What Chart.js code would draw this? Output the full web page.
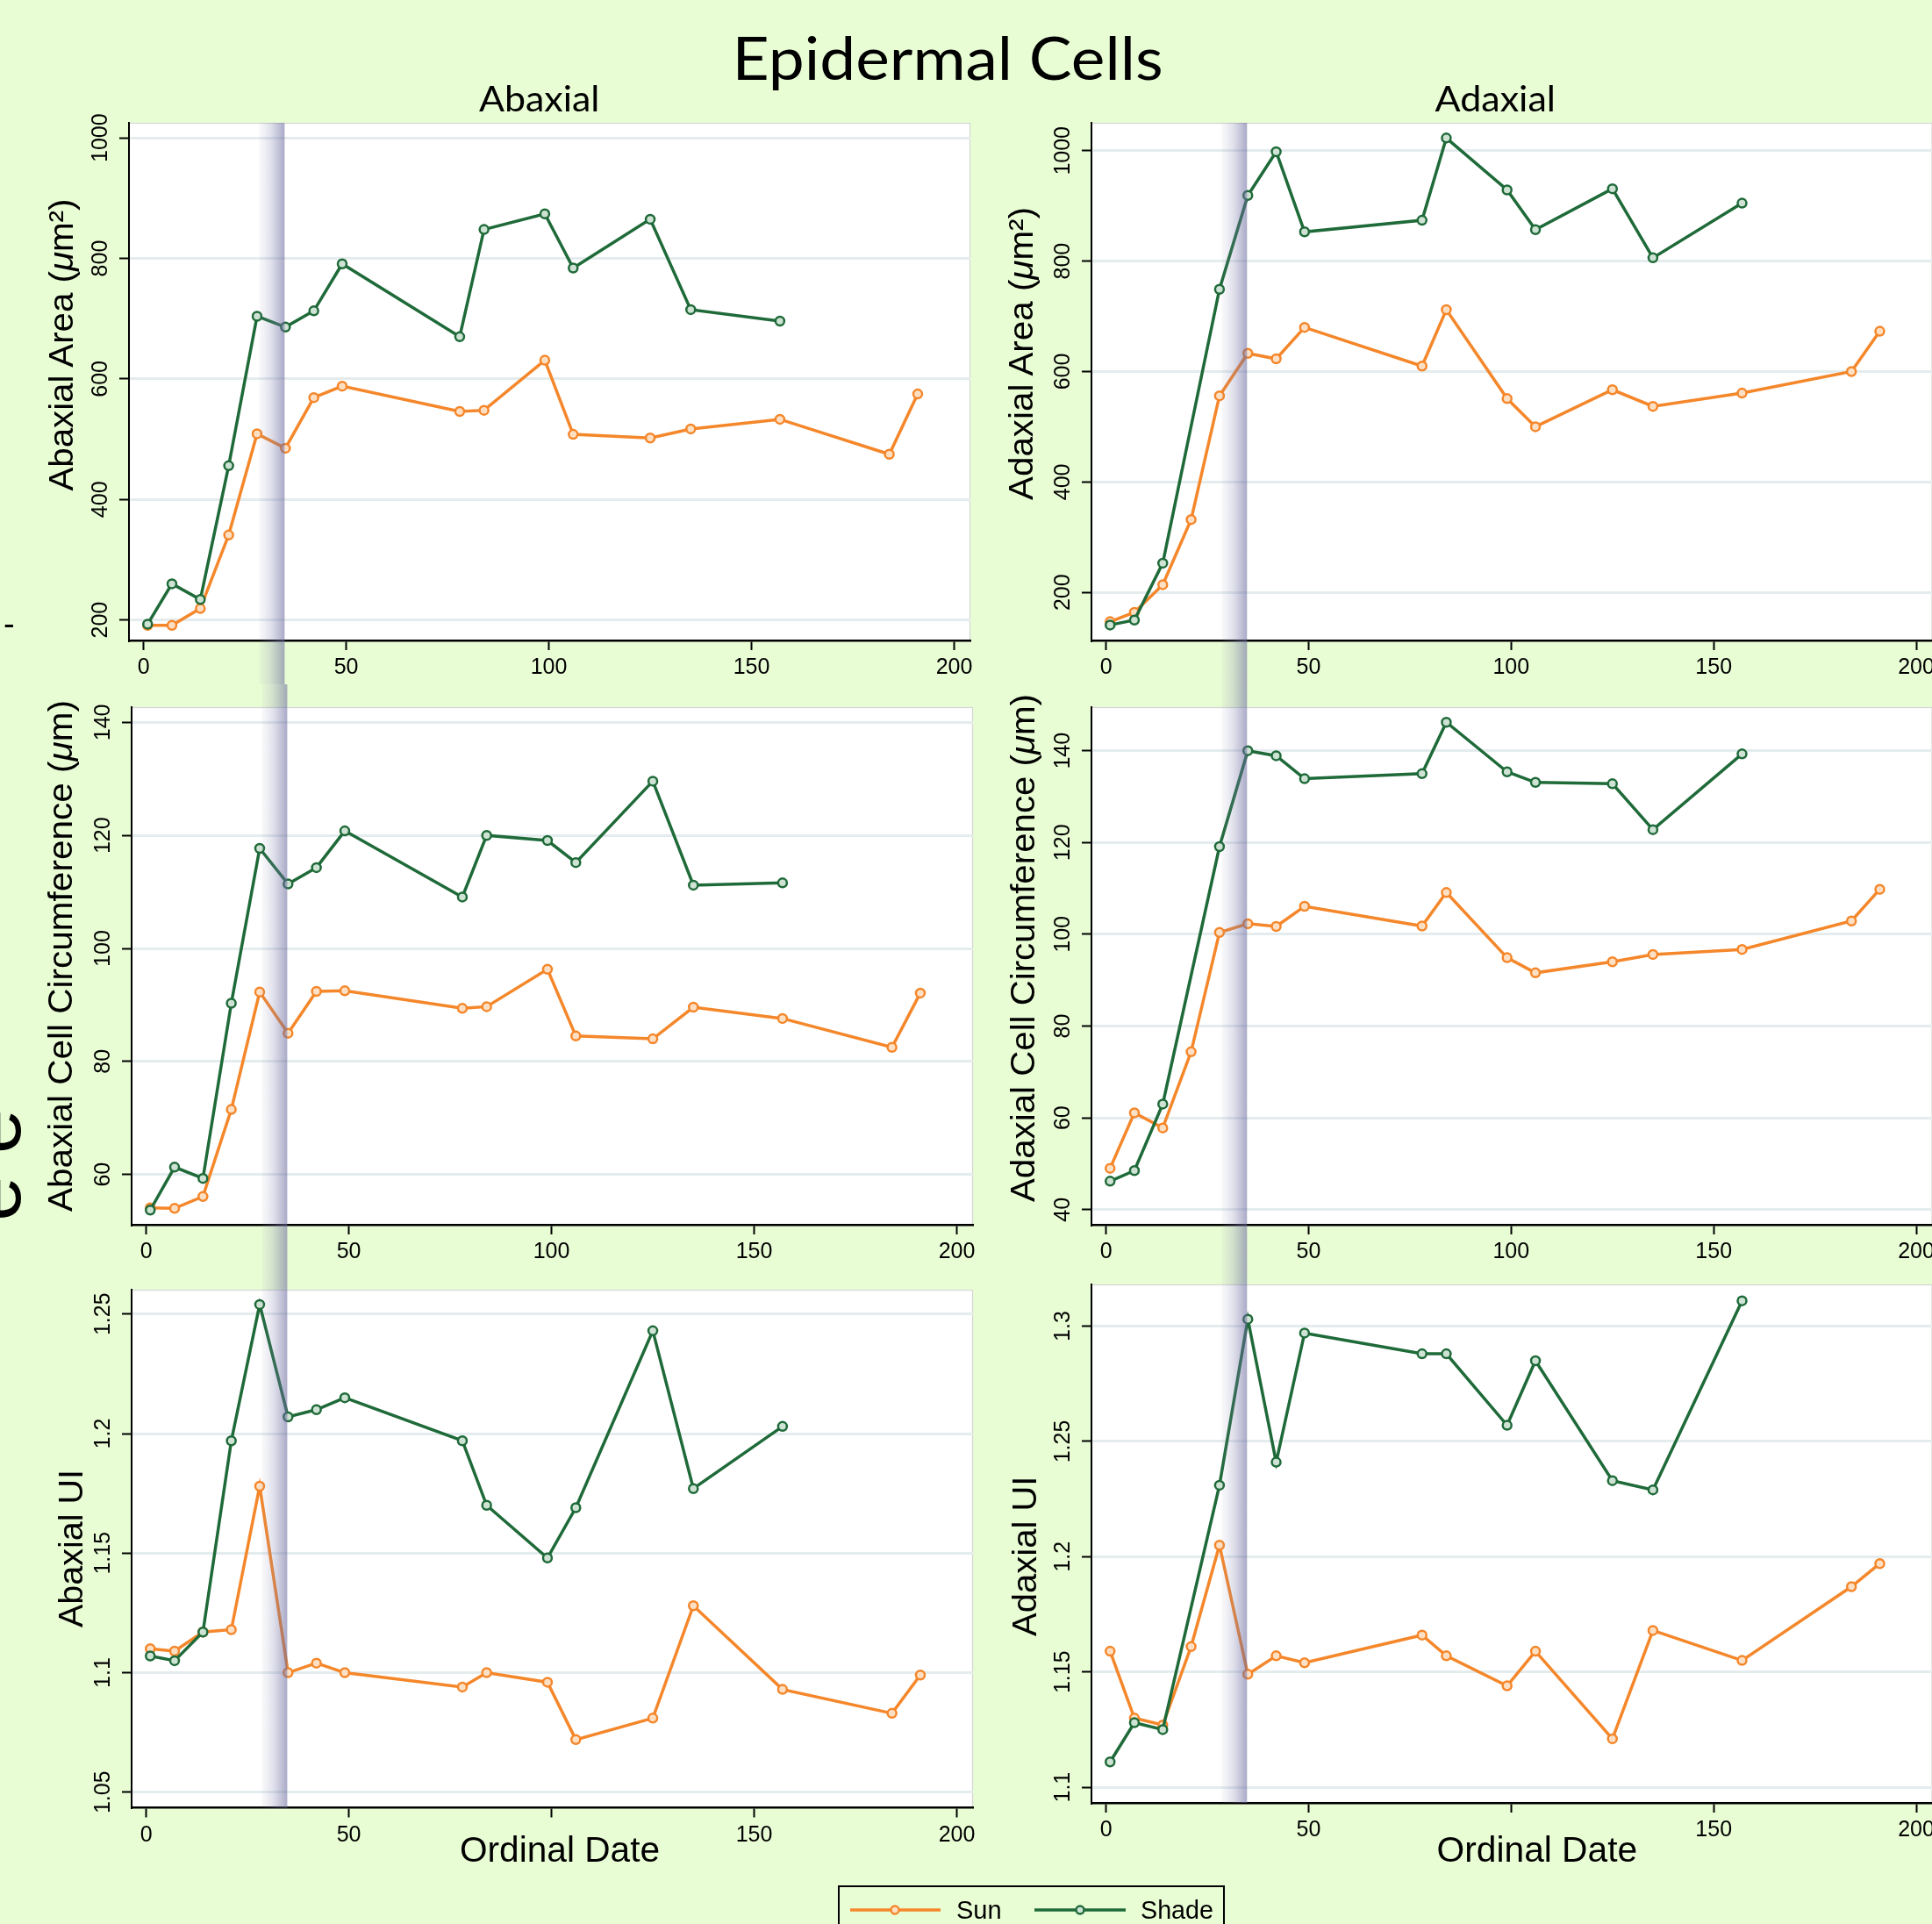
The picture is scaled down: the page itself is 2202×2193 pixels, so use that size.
<!DOCTYPE html>
<html><head><meta charset="utf-8">
<script src="https://cdn.jsdelivr.net/npm/chart.js@4.4.1/dist/chart.umd.min.js"></script>
<style>
html,body{margin:0;padding:0;width:2202px;height:2193px;overflow:hidden;background:#e9fdd5;}
canvas{position:absolute;}
#ov{position:absolute;left:0;top:0;pointer-events:none;}
</style></head><body>
<svg id="ov" width="2202" height="2193" xmlns="http://www.w3.org/2000/svg">
  <text x="834.6" y="91" font-family="Lato" font-size="68" textLength="491" lengthAdjust="spacingAndGlyphs">Epidermal Cells</text>
  <text x="546" y="127" font-family="Lato" font-size="41" textLength="137.5" lengthAdjust="spacingAndGlyphs">Abaxial</text>
  <text x="1635.5" y="127" font-family="Lato" font-size="41" textLength="137.5" lengthAdjust="spacingAndGlyphs">Adaxial</text>

  <g font-family="Liberation Sans" font-size="39">
    <text transform="translate(83,559.6) rotate(-90)" textLength="333" lengthAdjust="spacingAndGlyphs">Abaxial Area (<tspan font-style="italic">μ</tspan>m²)</text>
    <text transform="translate(82,1381) rotate(-90)" textLength="583" lengthAdjust="spacingAndGlyphs">Abaxial Cell Circumference (<tspan font-style="italic">μ</tspan>m)</text>
    <text transform="translate(93.5,1855) rotate(-90)" textLength="180" lengthAdjust="spacingAndGlyphs">Abaxial UI</text>
    <text transform="translate(1177,570) rotate(-90)" textLength="334" lengthAdjust="spacingAndGlyphs">Adaxial Area (<tspan font-style="italic">μ</tspan>m²)</text>
    <text transform="translate(1179,1370) rotate(-90)" textLength="579" lengthAdjust="spacingAndGlyphs">Adaxial Cell Circumference (<tspan font-style="italic">μ</tspan>m)</text>
    <text transform="translate(1181,1865) rotate(-90)" textLength="182.5" lengthAdjust="spacingAndGlyphs">Adaxial UI</text>
  </g>
  <g font-family="Liberation Sans" font-size="40.5">
    <text x="524" y="2122" textLength="228" lengthAdjust="spacingAndGlyphs">Ordinal Date</text>
    <text x="1637.6" y="2122" textLength="228.5" lengthAdjust="spacingAndGlyphs">Ordinal Date</text>
  </g>
  <!-- cut-off fragments at left edge -->
  <text transform="translate(23,1392) rotate(-90)" font-family="Liberation Sans" font-size="92">e e</text>
  <text x="4" y="724" font-family="Liberation Sans" font-size="38">-</text>

  <!-- legend -->
  <rect x="956" y="2150" width="439" height="80" fill="#e9fdd5" stroke="#000" stroke-width="2"/>
  <line x1="969" y1="2177" x2="1072" y2="2177" stroke="#f5872b" stroke-width="3.5"/>
  <circle cx="1020" cy="2177" r="4.5" fill="#fde0c4" stroke="#f5872b" stroke-width="2.5"/>
  <text x="1090" y="2187" font-family="Liberation Sans" font-size="29">Sun</text>
  <line x1="1179" y1="2177" x2="1283" y2="2177" stroke="#1f6a39" stroke-width="3.5"/>
  <circle cx="1231" cy="2177" r="4.5" fill="#cfe3d4" stroke="#1f6a39" stroke-width="2.5"/>
  <text x="1300" y="2187" font-family="Liberation Sans" font-size="29" textLength="83" lengthAdjust="spacingAndGlyphs">Shade</text>
</svg>
<script>
// ---------------- DATA ----------------
const dates = [1, 7, 14, 21, 28, 35, 42, 49, 78, 84, 99, 106, 125, 135, 157, 184, 191];

const abaxAreaSun   = [191, 191, 219, 341, 509, 485, 569, 588, 546, 548, 631, 508, 502, 517, 533, 475, 575];
const abaxAreaShade = [193, 260, 234, 456, 704, 686, 713, 791, 670, 848, 874, 784, 865, 715, 696, null, null];
const adaxAreaSun   = [147, 164, 214, 332, 556, 633, 623, 680, 610, 712, 551, 500, 567, 537, 561, 600, 673];
const adaxAreaShade = [141, 150, 253, null, 749, 919, 998, 853, 874, 1023, 929, 857, 931, 806, 905, null, null];

const abaxCircSun   = [54.1, 54.0, 56.1, 71.5, 92.3, 85.0, 92.4, 92.5, 89.4, 89.7, 96.3, 84.5, 84.0, 89.6, 87.6, 82.5, 92.1];
const abaxCircShade = [53.7, 61.3, 59.3, 90.3, 117.7, 111.4, 114.3, 120.8, 109.1, 120.0, 119.1, 115.2, 129.6, 111.2, 111.6, null, null];
const adaxCircSun   = [49.0, 61.1, 57.8, 74.4, 100.4, 102.3, 101.7, 106.1, 101.8, 109.1, 94.9, 91.6, 94.0, 95.6, 96.7, 102.9, 109.8];
const adaxCircShade = [46.2, 48.5, 63.0, null, 119.1, 140.0, 138.9, 133.9, 135.0, 146.2, 135.4, 133.1, 132.8, 122.8, 139.3, null, null];

const abaxUISun   = [1.110, 1.109, 1.117, 1.118, 1.178, 1.100, 1.104, 1.100, 1.094, 1.100, 1.096, 1.072, 1.081, 1.128, 1.093, 1.083, 1.099];
const abaxUIShade = [1.107, 1.105, 1.117, 1.197, 1.254, 1.207, 1.210, 1.215, 1.197, 1.170, 1.148, 1.169, 1.243, 1.177, 1.203, null, null];
const adaxUISun   = [1.159, 1.130, 1.127, 1.161, 1.205, 1.149, 1.157, 1.154, 1.166, 1.157, 1.144, 1.159, 1.121, 1.168, 1.155, 1.187, 1.197];
const adaxUIShade = [1.111, 1.128, 1.125, null, 1.231, 1.303, 1.241, 1.297, 1.288, 1.288, 1.257, 1.285, 1.233, 1.229, 1.311, null, null];

const xTicks = [0, 50, 100, 150, 200];
const xTickLabels = ['0', '50', '100', '150', '200'];
const xTickLabelsBottom = ['0', '50', '', '150', '200'];
const areaTicks = [200, 400, 600, 800, 1000];
const areaTickLabels = ['200', '400', '600', '800', '1000'];
const abaxCircTicks = [60, 80, 100, 120, 140];
const abaxCircTickLabels = ['60', '80', '100', '120', '140'];
const adaxCircTicks = [40, 60, 80, 100, 120, 140];
const adaxCircTickLabels = ['40', '60', '80', '100', '120', '140'];
const abaxUITicks = [1.05, 1.1, 1.15, 1.2, 1.25];
const abaxUITickLabels = ['1.05', '1.1', '1.15', '1.2', '1.25'];
const adaxUITicks = [1.1, 1.15, 1.2, 1.25, 1.3];
const adaxUITickLabels = ['1.1', '1.15', '1.2', '1.25', '1.3'];

const bandRange = [28.5, 34.8];

// ---------------- LAYOUT ----------------
const SUN = '#f5872b', SUN_FILL = '#fde0c4';
const SHADE = '#1f6a39', SHADE_FILL = '#cfe3d4';
const cols = [{x: 0, w: 1150}, {x: 1150, w: 1060}];
const rows = [{y: 0, h: 780, role: 'top'}, {y: 780, h: 665, role: 'mid'}, {y: 1445, h: 748, role: 'bottom'}];
const X_MIN = -3.6, X_MAX = 204;

const panels = [
  {c:0, r:0, L:147,  R:1106, T:140,  B:730,    yMin:166,    yMax:1025,   yTicks:areaTicks,     yLabels:areaTickLabels,     sun:abaxAreaSun, shade:abaxAreaShade, xLabels:xTickLabels},
  {c:1, r:0, L:1244, R:2205, T:140,  B:730,    yMin:113,    yMax:1050.5, yTicks:areaTicks,     yLabels:areaTickLabels,     sun:adaxAreaSun, shade:adaxAreaShade, xLabels:xTickLabels},
  {c:0, r:1, L:150,  R:1109, T:806,  B:1396,   yMin:51.1,   yMax:142.7,  yTicks:abaxCircTicks, yLabels:abaxCircTickLabels, sun:abaxCircSun, shade:abaxCircShade, xLabels:xTickLabels},
  {c:1, r:1, L:1244, R:2205, T:806,  B:1396,   yMin:36.7,   yMax:149.5,  yTicks:adaxCircTicks, yLabels:adaxCircTickLabels, sun:adaxCircSun, shade:adaxCircShade, xLabels:xTickLabels},
  {c:0, r:2, L:150,  R:1109, T:1470, B:2060.5, yMin:1.0435, yMax:1.2602, yTicks:abaxUITicks,   yLabels:abaxUITickLabels,   sun:abaxUISun,   shade:abaxUIShade,   xLabels:xTickLabelsBottom},
  {c:1, r:2, L:1244, R:2205, T:1464, B:2055,   yMin:1.0932, yMax:1.3181, yTicks:adaxUITicks,   yLabels:adaxUITickLabels,   sun:adaxUISun,   shade:adaxUIShade,   xLabels:xTickLabelsBottom},
];

const bgPlugin = {
  id: 'bg',
  beforeDraw(chart) {
    const {ctx, chartArea: a} = chart;
    ctx.save();
    ctx.fillStyle = '#ffffff';
    ctx.fillRect(a.left, a.top, a.right - a.left, a.bottom - a.top);
    ctx.strokeStyle = '#d2d6d2';
    ctx.lineWidth = 1.2;
    ctx.strokeRect(a.left + 0.5, a.top + 0.5, a.right - a.left - 1, a.bottom - a.top - 1);
    ctx.restore();
  }
};

const bandPlugin = {
  id: 'band',
  afterDatasetsDraw(chart) {
    const info = chart.canvas.$info;
    if (!info) return;
    const role = info.role;
    const {ctx, chartArea: a} = chart;
    const xs = chart.scales.x;
    const x0 = xs.getPixelForValue(bandRange[0]);
    const x1 = xs.getPixelForValue(bandRange[1]);
    const top = role === 'top' ? a.top : 0;
    const bot = role === 'bottom' ? a.bottom : chart.height;
    const g = ctx.createLinearGradient(x0, 0, x1, 0);
    g.addColorStop(0, 'rgba(130,130,175,0.04)');
    g.addColorStop(0.45, 'rgba(120,120,170,0.22)');
    g.addColorStop(0.9, 'rgba(105,105,158,0.50)');
    g.addColorStop(1, 'rgba(105,105,158,0.56)');
    ctx.save();
    ctx.fillStyle = g;
    ctx.fillRect(x0, top, x1 - x0, bot - top);
    ctx.restore();
  }
};

const labelPlugin = {
  id: 'labels',
  afterDraw(chart) {
    const info = chart.canvas.$info;
    if (!info) return;
    const p = info.panel;
    const {ctx, chartArea: a} = chart;
    const xs = chart.scales.x, ys = chart.scales.y;
    ctx.save();
    ctx.fillStyle = '#000';
    ctx.font = '25px "Liberation Sans", Arial, sans-serif';
    ctx.textAlign = 'center';
    ctx.textBaseline = 'alphabetic';
    xs.ticks.forEach((t, i) => {
      const lab = p.xLabels[i];
      if (!lab) return;
      ctx.fillText(lab, xs.getPixelForValue(t.value), a.bottom + 38);
    });
    ys.ticks.forEach((t, i) => {
      const py = ys.getPixelForValue(t.value);
      ctx.save();
      ctx.translate(a.left - 25, py);
      ctx.rotate(-Math.PI / 2);
      ctx.fillText(p.yLabels[i], 0, 0);
      ctx.restore();
    });
    ctx.restore();
  }
};

panels.forEach((p) => {
  const col = cols[p.c], row = rows[p.r];
  const cv = document.createElement('canvas');
  cv.width = col.w; cv.height = row.h;
  cv.style.left = col.x + 'px'; cv.style.top = row.y + 'px';
  cv.style.width = col.w + 'px'; cv.style.height = row.h + 'px';
  cv.$info = {panel: p, role: row.role};
  document.body.insertBefore(cv, document.getElementById('ov'));

  const mk = (vals) => dates.map((d, i) => ({x: d, y: vals[i] === undefined ? null : vals[i]}));
  new Chart(cv.getContext('2d'), {
    type: 'line',
    data: {
      datasets: [
        {label: 'Shade', data: mk(p.shade), borderColor: SHADE, backgroundColor: SHADE_FILL,
         borderWidth: 3.5, pointRadius: 5, pointBorderWidth: 2.5, pointBackgroundColor: SHADE_FILL,
         pointBorderColor: SHADE, tension: 0, spanGaps: true, order: 0, fill: false},
        {label: 'Sun', data: mk(p.sun), borderColor: SUN, backgroundColor: SUN_FILL,
         borderWidth: 3.5, pointRadius: 5, pointBorderWidth: 2.5, pointBackgroundColor: SUN_FILL,
         pointBorderColor: SUN, tension: 0, spanGaps: true, order: 1, fill: false}
      ]
    },
    options: {
      responsive: false, animation: false, devicePixelRatio: 1, events: [],
      layout: {padding: {left: p.L - col.x, right: col.x + col.w - p.R, top: p.T - row.y, bottom: row.y + row.h - p.B}},
      plugins: {legend: {display: false}, tooltip: {enabled: false}, title: {display: false}},
      scales: {
        x: {
          type: 'linear', min: X_MIN, max: X_MAX,
          afterFit: (s) => { s.height = 0; },
          afterBuildTicks: (s) => { s.ticks = xTicks.map((v) => ({value: v})); },
          ticks: {display: false},
          grid: {drawOnChartArea: false, drawTicks: true, tickLength: 11, tickColor: '#000', tickWidth: 2},
          border: {display: true, color: '#000', width: 2.5}
        },
        y: {
          type: 'linear', min: p.yMin, max: p.yMax,
          afterFit: (s) => { s.width = 0; },
          afterBuildTicks: (s) => { s.ticks = p.yTicks.map((v) => ({value: v})); },
          ticks: {display: false},
          grid: {color: '#e4ecee', lineWidth: 3, drawTicks: true, tickLength: 11, tickColor: '#000', tickWidth: 2},
          border: {display: true, color: '#000', width: 2}
        }
      }
    },
    plugins: [bgPlugin, bandPlugin, labelPlugin]
  });
});
</script>
</body></html>
